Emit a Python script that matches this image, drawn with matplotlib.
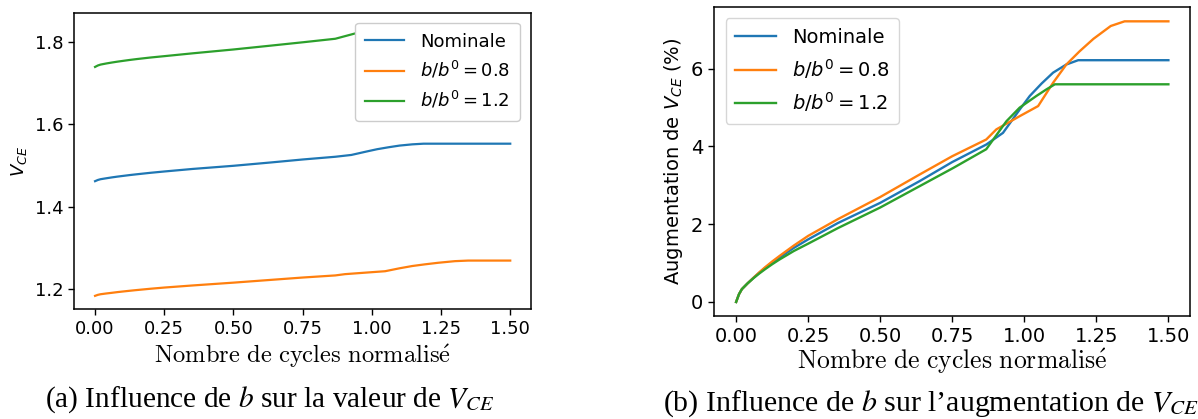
import matplotlib
matplotlib.use("Agg")
import matplotlib.pyplot as plt

# ---------------- data ----------------
series_labels = ["Nominale", r"$b/b^0 = 0.8$", r"$b/b^0 = 1.2$"]

# (b) augmentation of V_CE in %
t_nom = [0, 0.01, 0.02, 0.04, 0.06, 0.08, 0.1, 0.125, 0.15, 0.2, 0.25, 0.353, 0.5,
         0.637, 0.75, 0.868, 0.926, 0.984, 1.019, 1.06, 1.10, 1.146, 1.187, 1.5]
aug_nom = [0, 0.20, 0.33, 0.48, 0.62, 0.75, 0.87, 1.01, 1.14, 1.39, 1.61, 2.03, 2.55,
           3.11, 3.60, 4.05, 4.35, 4.95, 5.30, 5.62, 5.90, 6.11, 6.22, 6.22]

t_08 = [0, 0.01, 0.02, 0.04, 0.06, 0.08, 0.1, 0.125, 0.15, 0.2, 0.25, 0.353, 0.5,
        0.637, 0.75, 0.868, 0.903, 0.984, 1.048, 1.10, 1.146, 1.192, 1.24, 1.30,
        1.348, 1.5]
aug_08 = [0, 0.20, 0.33, 0.48, 0.62, 0.76, 0.89, 1.04, 1.18, 1.45, 1.70, 2.13, 2.70,
          3.28, 3.75, 4.18, 4.44, 4.78, 5.04, 5.64, 6.11, 6.45, 6.77, 7.10,
          7.22, 7.22]

t_12 = [0, 0.01, 0.02, 0.04, 0.06, 0.08, 0.1, 0.125, 0.15, 0.2, 0.25, 0.353, 0.5,
        0.637, 0.754, 0.868, 0.938, 0.984, 1.042, 1.077, 1.106, 1.5]
aug_12 = [0, 0.20, 0.33, 0.48, 0.61, 0.73, 0.84, 0.97, 1.09, 1.31, 1.50, 1.90, 2.43,
          2.98, 3.45, 3.93, 4.65, 5.00, 5.30, 5.47, 5.60, 5.60]

# (a) V_CE values (same time points as above)
vce_nom = [1.4620, 1.4649, 1.4668, 1.4690, 1.4711, 1.4730, 1.4747, 1.4768, 1.4787,
           1.4823, 1.4855, 1.4917, 1.4993, 1.5075, 1.5146, 1.5212, 1.5256, 1.5344,
           1.5395, 1.5442, 1.5483, 1.5513, 1.5529, 1.5529]
vce_08 = [1.1840, 1.1864, 1.1879, 1.1897, 1.1913, 1.1930, 1.1945, 1.1963, 1.1980,
          1.2012, 1.2041, 1.2092, 1.2160, 1.2228, 1.2284, 1.2335, 1.2366, 1.2406,
          1.2437, 1.2508, 1.2563, 1.2604, 1.2642, 1.2681, 1.2695, 1.2695]
vce_12 = [1.7390, 1.7425, 1.7447, 1.7473, 1.7496, 1.7517, 1.7536, 1.7559, 1.7580,
          1.7618, 1.7651, 1.7720, 1.7813, 1.7908, 1.7990, 1.8073, 1.8199, 1.8260,
          1.8312, 1.8341, 1.8364, 1.8364]

x_ticks = [0.0, 0.25, 0.5, 0.75, 1.0, 1.25, 1.5]

xlabel_txt = r"$\mathrm{Nombre\ de\ cycles\ normalis\acute{e}}$"
caption_a = r"(a) Influence de $b$ sur la valeur de $V_{CE}$"
caption_b = r"(b) Influence de $b$ sur l’augmentation de $V_{CE}$"

colors = ["#1f77b4", "#ff7f0e", "#2ca02c"]

W, H = 1198, 419
fig = plt.figure(figsize=(W / 100, H / 100), dpi=100)


def box(x0, x1, ytop, ybot):
    return [x0 / W, 1 - ybot / H, (x1 - x0) / W, (ybot - ytop) / H]


ax1 = fig.add_axes(box(74.3, 531, 13.3, 309.3))
ax2 = fig.add_axes(box(714.5, 1190, 7.3, 316))

fs1, fs2 = 13, 14
lw1, lw2 = 1.6, 1.7

ax1.plot(t_nom, vce_nom, color=colors[0], lw=lw1, label=series_labels[0])
ax1.plot(t_08, vce_08, color=colors[1], lw=lw1, label=series_labels[1])
ax1.plot(t_12, vce_12, color=colors[2], lw=lw1, label=series_labels[2])

ax2.plot(t_nom, aug_nom, color=colors[0], lw=lw2, label=series_labels[0])
ax2.plot(t_08, aug_08, color=colors[1], lw=lw2, label=series_labels[1])
ax2.plot(t_12, aug_12, color=colors[2], lw=lw2, label=series_labels[2])

ax1.set_yticks([1.2, 1.4, 1.6, 1.8])
ax2.set_yticks([0, 2, 4, 6])
for ax, fs in ((ax1, fs1), (ax2, fs2)):
    ax.set_xticks(x_ticks)
    ax.tick_params(labelsize=fs, length=4.5, width=1)
    for s in ax.spines.values():
        s.set_linewidth(1.1)

ax1.set_ylabel(r"$V_{CE}$", fontsize=fs1)
ax2.set_ylabel(r"Augmentation de $V_{CE}$ (%)", fontsize=fs2)

ax1.legend(loc="upper right", bbox_to_anchor=(0.976, 0.968), borderaxespad=0,
           fontsize=fs1, borderpad=0.55, handlelength=2.15, handletextpad=0.9,
           framealpha=1)
ax2.legend(loc="upper left", bbox_to_anchor=(0.0233, 0.9644), borderaxespad=0,
           fontsize=fs2, borderpad=0.5, handlelength=2.1, handletextpad=0.8)

renderer = fig.canvas.get_renderer()


def fit_text(x, y, s, target_w, ha, **kw):
    t = fig.text(x / W, 1 - y / H, s, ha=ha, va="baseline", fontsize=20, **kw)
    w = t.get_window_extent(renderer).width
    t.set_fontsize(20 * target_w / w)
    return t


fit_text(302.7, 363, xlabel_txt, 297, "center", math_fontfamily="cm")
fit_text(952, 369, xlabel_txt, 310, "center", math_fontfamily="cm")

ta = fit_text(270, 406.5, caption_a, 449, "center",
              family="Liberation Serif", math_fontfamily="stix")
fig.text(663 / W, 1 - 411 / H, caption_b, ha="left", va="baseline",
         fontsize=ta.get_fontsize() * 1.02, family="Liberation Serif",
         math_fontfamily="stix")

fig.savefig("out.png", dpi=100)
